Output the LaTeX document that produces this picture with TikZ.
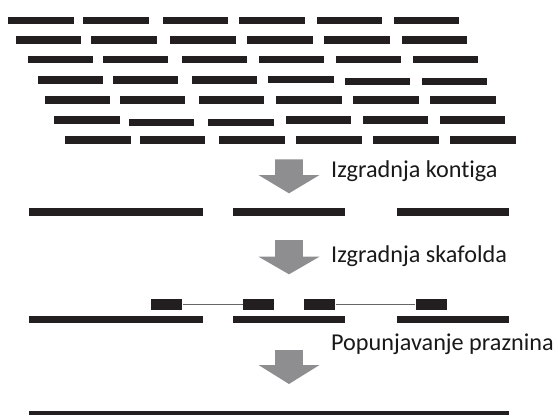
\documentclass[tikz,border=0pt]{standalone}
\usepackage{fontspec}
\setmainfont[Ligatures=NoCommon]{Carlito}
\definecolor{barc}{HTML}{231F20}
\definecolor{arrc}{HTML}{8E8E90}
\begin{document}
\begin{tikzpicture}[x=1pt,y=-1pt,
  readbar/.style={fill=barc},
  bigarrow/.style={fill=arrc},
  lab/.style={anchor=base west,inner sep=0pt,font=\fontsize{24.2}{26}\selectfont,text=black!90},
  pairbox/.style={fill=barc,draw=none,inner sep=0pt,minimum width=31pt,minimum height=10.7pt,rectangle},
  pairline/.style={draw=black!60,line width=0.8pt}]
\useasboundingbox (0,0) rectangle (555,415);
% reads
\foreach \a/\b/\y in {
 8.3/74/20.5, 83.3/149/20.5, 162.7/228.3/20.5, 239.3/305/20.5, 317/382.3/20.5, 394/459.3/20.5,
 16/81.3/40, 91.3/156.7/40, 170/235.7/40, 247/312.7/40, 324.3/389.7/40, 401.7/467/40,
 28.3/93.3/59.5, 103/168.3/59.5, 182/247.3/59.5, 258.7/324.3/59.5, 336.3/401.3/59.5, 413/478.3/59.5,
 37.7/102.7/80, 112.7/178/80, 191.7/257/80, 268.3/334.3/79.3, 345.3/410.3/81.7, 422/487.3/81.7,
 45.3/110.3/100, 120/185.3/100, 199/264.3/100, 276/341.7/100, 353.3/418.7/100, 430.3/495.7/100,
 54.3/120/120, 129/194.3/122.7, 208.3/273.7/122.7, 285.7/351.3/120, 363/428.3/120, 439.7/505/120,
 65.3/130.7/140, 140/205.3/140, 219/285/140, 296/361.7/140, 373.3/438.7/140, 450.3/515.7/140}
 { \fill[readbar] (\a,\y-3.6) rectangle (\b,\y+3.6); }
% arrows
\foreach \t/\m/\e in {159.3/175/193.3, 240/256.7/274.3, 350/365/384}
 { \fill[bigarrow] (275.2,\t) -- (302.8,\t) -- (302.8,\m) -- (319.5,\m) -- (289,\e) -- (258.5,\m) -- (275.2,\m) -- cycle; }
% labels
\node[lab] (l1) at (331,177.3) {Izgradnja kontiga};
\node[lab] (l2) at (331,262.7) {Izgradnja skafolda};
\node[lab] (l3) at (331,350) {Popunjavanje praznina};
% contigs
\foreach \a/\b in {29.4/202.5, 232.6/345.1, 396.5/508.5}
 { \fill[readbar] (\a,208) rectangle (\b,215.7);
   \fill[readbar] (\a,315.7) rectangle (\b,323.3); }
% scaffold pairs
\node[pairbox] (p1) at (166.9,304.6) {};
\node[pairbox] (p2) at (258.2,304.6) {};
\node[pairbox] (p3) at (319.8,304.6) {};
\node[pairbox] (p4) at (431,304.6) {};
\draw[pairline] (p1.east) -- (p2.west);
\draw[pairline] (p3.east) -- (p4.west);
% final sequence
\fill[readbar] (29.4,410.5) rectangle (508.5,419);
\end{tikzpicture}
\end{document}
